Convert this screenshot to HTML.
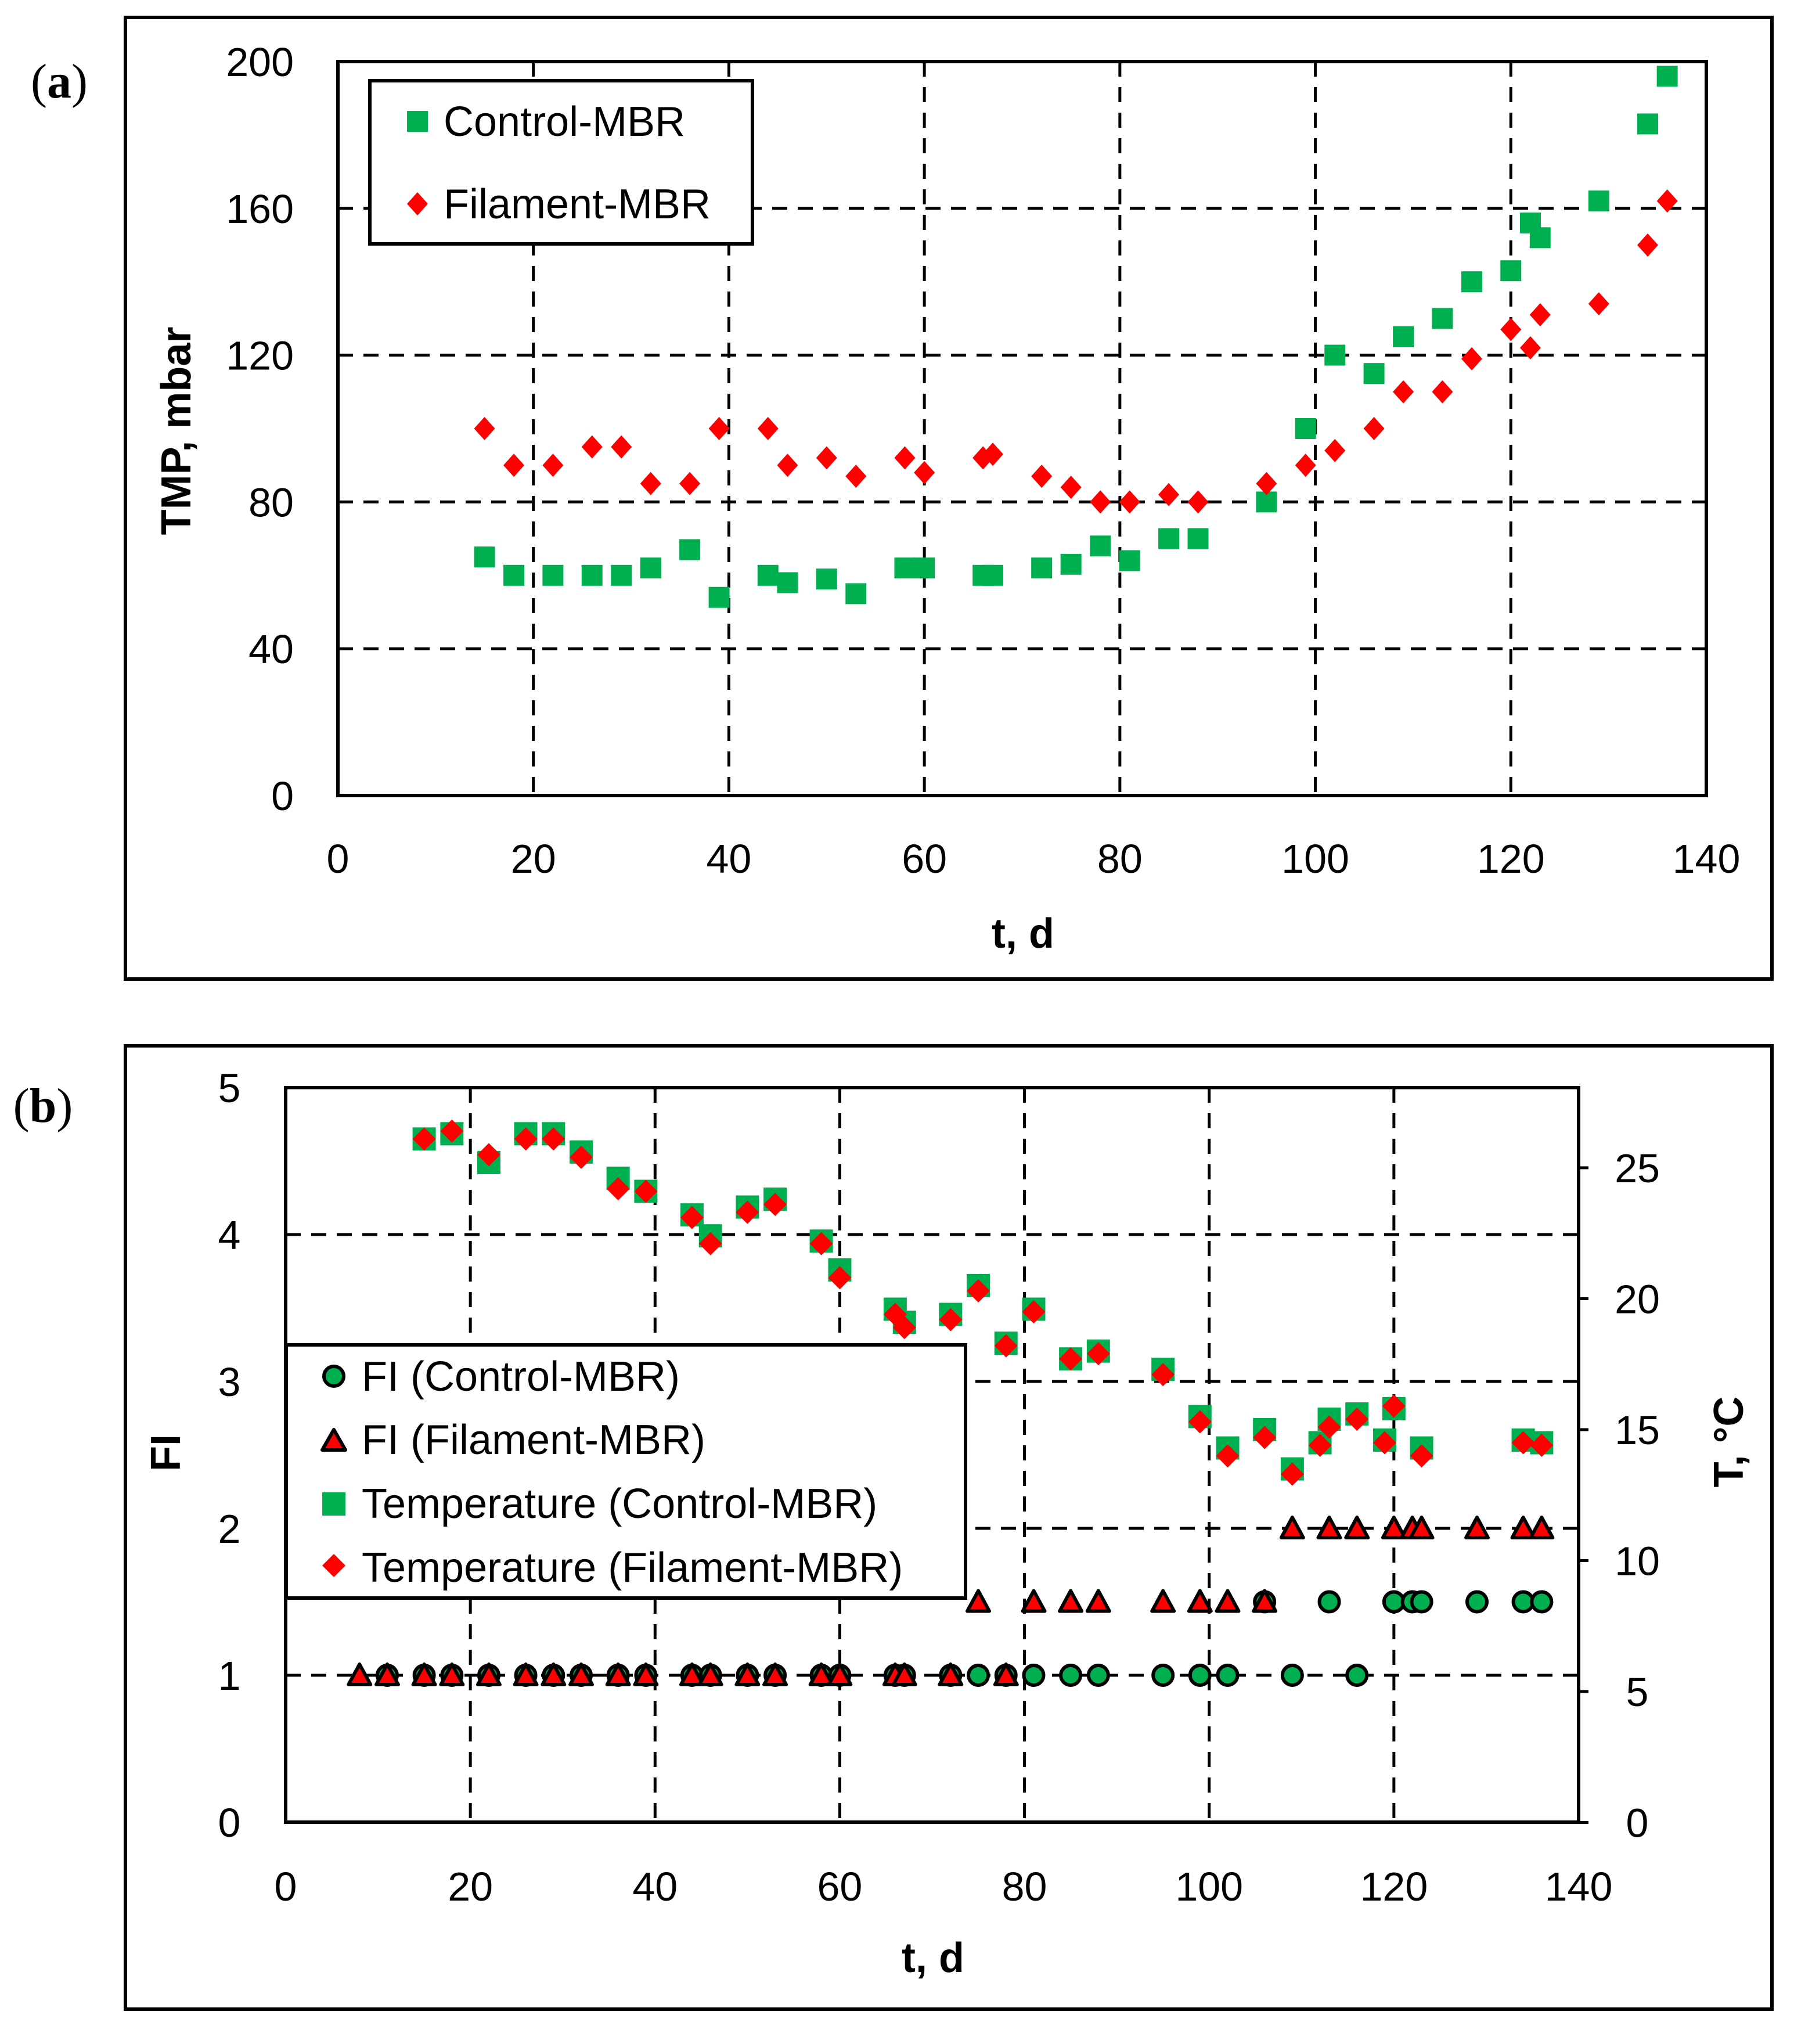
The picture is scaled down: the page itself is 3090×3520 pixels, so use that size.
<!DOCTYPE html>
<html><head><meta charset="utf-8"><style>
html,body{margin:0;padding:0;background:#fff}
svg{display:block}
text{font-family:"Liberation Sans",sans-serif;fill:#000}
</style></head><body>
<svg id="fig" width="3090" height="3520" viewBox="0 0 3090 3520" xmlns="http://www.w3.org/2000/svg">
<rect x="0" y="0" width="3090" height="3520" fill="#fff"/>
<g id="pa">
<rect x="216" y="30" width="2836" height="1656" fill="none" stroke="#000" stroke-width="6"/>
<text x="102" y="168" font-size="84" text-anchor="middle" style="font-family:'Liberation Serif',serif">(<tspan font-weight="bold">a</tspan>)</text>
<g id="pa-grid"></g>
<g id="pa-ticks"></g>
<g id="pa-marks"></g>
<rect x="582" y="106" width="2357" height="1264" fill="none" stroke="#000" stroke-width="6"/>
<text x="1762" y="1632" font-size="72" font-weight="bold" text-anchor="middle">t, d</text>
<text transform="translate(328,742) rotate(-90)" font-size="72" font-weight="bold" text-anchor="middle">TMP, mbar</text>
<g>
<rect x="637" y="139" width="659" height="281" fill="#fff" stroke="#000" stroke-width="6"/>
<rect x="701" y="191" width="36" height="36" fill="#00B050"/>
<text x="764" y="234" font-size="72">Control-MBR</text>
<polygon points="719,331 737,351 719,371 701,351" fill="#FF0000"/>
<text x="764" y="376" font-size="72">Filament-MBR</text>
</g>
</g>
<g id="pb">
<rect x="216" y="1801" width="2836" height="1659" fill="none" stroke="#000" stroke-width="6"/>
<text x="74" y="1932" font-size="84" text-anchor="middle" style="font-family:'Liberation Serif',serif">(<tspan font-weight="bold">b</tspan>)</text>
<g id="pb-grid"></g>
<g id="pb-ticks"></g>
<g id="pb-marks"></g>
<rect x="492" y="1873" width="2227" height="1265" fill="none" stroke="#000" stroke-width="6"/>
<text x="1607" y="3396" font-size="72" font-weight="bold" text-anchor="middle">t, d</text>
<text transform="translate(310,2502) rotate(-90)" font-size="72" font-weight="bold" text-anchor="middle">FI</text>
<text transform="translate(3002,2483) rotate(-90)" font-size="72" font-weight="bold" text-anchor="middle">T, °C</text>
<g>
<rect x="493" y="2316" width="1170" height="436" fill="#fff" stroke="#000" stroke-width="6"/>
<circle cx="575" cy="2370" r="17" fill="#00B050" stroke="#000" stroke-width="6"/>
<text x="623" y="2395" font-size="72">FI (Control-MBR)</text>
<polygon points="575,2462 595,2497 555,2497" fill="#FF0000" stroke="#000" stroke-width="6" stroke-linejoin="round"/>
<text x="623" y="2504" font-size="72">FI (Filament-MBR)</text>
<rect x="555" y="2570" width="40" height="40" fill="#00B050"/>
<text x="623" y="2614" font-size="72">Temperature (Control-MBR)</text>
<polygon points="575,2676 595,2696 575,2716 555,2696" fill="#FF0000"/>
<text x="623" y="2724" font-size="72">Temperature (Filament-MBR)</text>
</g>
</g>
</svg>
<script>
// Panel (a) data
const aDays = [15,18,22,26,29,32,36,39,44,46,50,53,58,60,66,67,72,75,78,81,85,88,95,99,102,106,109,113,116,120,122,123,129,134,136];
const aControl = [65,60,60,60,60,62,67,54,60,58,59,55,62,62,60,60,62,63,68,64,70,70,80,100,120,115,125,130,140,143,156,152,162,183,196];
const aFilament = [100,90,90,95,95,85,85,100,100,90,92,87,92,88,92,93,87,84,80,80,82,80,85,90,94,100,110,110,119,127,122,131,134,150,162];
const aXTicks = [0,20,40,60,80,100,120,140];
const aYTicks = [0,40,80,120,160,200];
// Panel (b) data
const fiCtrlDays = [11,15,18,22,26,29,32,36,39,44,46,50,53,58,60,66,67,72,75,78,81,85,88,95,99,102,109,116,106,113,120,122,123,129,134,136];
const fiCtrl = [1,1,1,1,1,1,1,1,1,1,1,1,1,1,1,1,1,1,1,1,1,1,1,1,1,1,1,1,1.5,1.5,1.5,1.5,1.5,1.5,1.5,1.5];
const fiFilDays = [8,11,15,18,22,26,29,32,36,39,44,46,50,53,58,60,66,67,72,78,75,81,85,88,95,99,102,106,109,113,116,120,122,123,129,134,136];
const fiFil = [1,1,1,1,1,1,1,1,1,1,1,1,1,1,1,1,1,1,1,1,1.5,1.5,1.5,1.5,1.5,1.5,1.5,1.5,2,2,2,2,2,2,2,2,2];
const tDays = [15,18,22,26,29,32,36,39,44,46,50,53,58,60,66,67,72,75,78,81,85,88,95,99,102,106,109,112,113,116,119,120,123,134,136];
const tCtrl = [26.1,26.3,25.2,26.3,26.3,25.6,24.6,24.1,23.2,22.4,23.5,23.8,22.2,21.1,19.6,19.1,19.4,20.5,18.3,19.6,17.7,18.0,17.3,15.5,14.3,15.0,13.5,14.5,15.4,15.6,14.6,15.8,14.3,14.6,14.5];
const tFil = [26.1,26.4,25.5,26.1,26.1,25.4,24.2,24.1,23.1,22.1,23.3,23.6,22.1,20.8,19.4,18.9,19.2,20.3,18.2,19.5,17.7,17.9,17.1,15.3,14.0,14.7,13.3,14.4,15.1,15.4,14.5,15.9,14.0,14.5,14.4];
const bXTicks = [0,20,40,60,80,100,120,140];
const bFITicks = [0,1,2,3,4,5];
const bTTicks = [0,5,10,15,20,25];

const NS = 'http://www.w3.org/2000/svg';
function mk(tag, attrs, parent){const e=document.createElementNS(NS,tag);for(const k in attrs)e.setAttribute(k,attrs[k]);parent.appendChild(e);return e;}
const ax = d => 582 + d*(2357/140);
const ay = v => 1370 - v*(1264/200);
const bx = d => 492 + d*(2227/140);
const by = v => 3138 - v*253;
const bt = v => 3138.5 - v*45.1;

const paGrid=document.getElementById('pa-grid'), paTicks=document.getElementById('pa-ticks'), paMarks=document.getElementById('pa-marks');
const pbGrid=document.getElementById('pb-grid'), pbTicks=document.getElementById('pb-ticks'), pbMarks=document.getElementById('pb-marks');
const dash={stroke:'#000','stroke-width':5,'stroke-dasharray':'26 18',fill:'none'};

aXTicks.forEach(t=>{
  if(t>0&&t<140){const l=mk('line',Object.assign({x1:ax(t),x2:ax(t),y1:106,y2:1370},dash),paGrid);
  
  }
  const tx=mk('text',{x:ax(t),y:1503,'font-size':70,'text-anchor':'middle'},paTicks);tx.textContent=t;
  
  
});
aYTicks.forEach(t=>{
  if(t>0&&t<200){const l=mk('line',Object.assign({x1:582,x2:2939,y1:ay(t),y2:ay(t)},dash),paGrid);
  
  }
  const tx=mk('text',{x:506,y:ay(t)+25,'font-size':70,'text-anchor':'end'},paTicks);tx.textContent=t;
  
  
});
aDays.forEach((d,i)=>{
  const s=mk('rect',{x:ax(d)-18,y:ay(aControl[i])-18,width:36,height:36,fill:'#00B050'},paMarks);
  
  
});
aDays.forEach((d,i)=>{
  const cx=ax(d), cy=ay(aFilament[i]);
  const p=mk('polygon',{points:`${cx},${cy-20} ${cx+18},${cy} ${cx},${cy+20} ${cx-18},${cy}`,fill:'#FF0000'},paMarks);
  
  
});

bXTicks.forEach(t=>{
  if(t>0&&t<140){const l=mk('line',Object.assign({x1:bx(t),x2:bx(t),y1:1873,y2:3138},dash),pbGrid);
  
  }
  const tx=mk('text',{x:bx(t),y:3273,'font-size':70,'text-anchor':'middle'},pbTicks);tx.textContent=t;
  
  
});
bFITicks.forEach(t=>{
  if(t>0&&t<5){const l=mk('line',Object.assign({x1:492,x2:2719,y1:by(t),y2:by(t)},dash),pbGrid);
  
  }
  const tx=mk('text',{x:395,y:by(t)+25,'font-size':70,'text-anchor':'middle'},pbTicks);tx.textContent=t;
  
  
});
bTTicks.forEach(t=>{
  const l=mk('line',{x1:2719,x2:2736,y1:bt(t),y2:bt(t),stroke:'#000','stroke-width':5},pbTicks);
  
  
  const tx=mk('text',{x:2820,y:bt(t)+25,'font-size':70,'text-anchor':'middle'},pbTicks);tx.textContent=t;
  
  
});
fiCtrlDays.forEach((d,i)=>{
  const c=mk('circle',{cx:bx(d),cy:by(fiCtrl[i]),r:17,fill:'#00B050',stroke:'#000','stroke-width':6},pbMarks);
  
  
});
fiFilDays.forEach((d,i)=>{
  const cx=bx(d), cy=by(fiFil[i]);
  const p=mk('polygon',{points:`${cx},${cy-19} ${cx+19},${cy+16} ${cx-19},${cy+16}`,fill:'#FF0000',stroke:'#000','stroke-width':6,'stroke-linejoin':'round'},pbMarks);
  
  
});
tDays.forEach((d,i)=>{
  const s=mk('rect',{x:bx(d)-20,y:bt(tCtrl[i])-20,width:40,height:40,fill:'#00B050'},pbMarks);
  
  
});
tDays.forEach((d,i)=>{
  const cx=bx(d), cy=bt(tFil[i]);
  const p=mk('polygon',{points:`${cx},${cy-20} ${cx+20},${cy} ${cx},${cy+20} ${cx-20},${cy}`,fill:'#FF0000'},pbMarks);
  
  
});
</script>
</body></html>
